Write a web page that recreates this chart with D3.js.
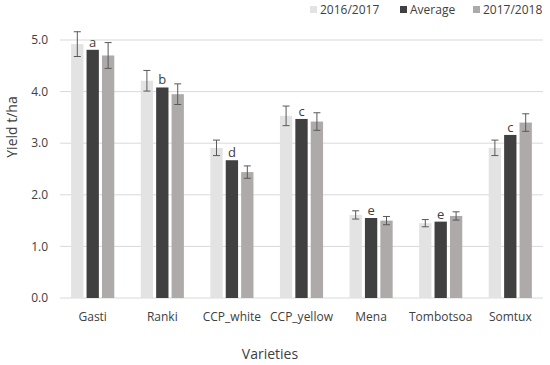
<!DOCTYPE html>
<html>
<head>
<meta charset="utf-8">
<script src="https://cdn.jsdelivr.net/npm/d3@7"></script>
<style>
  body { margin: 0; background: #fff; }
  text { font-family: "Open Sans", "Liberation Sans", sans-serif; fill: #404040; }
</style>
</head>
<body>
<svg id="chart" width="550" height="365"></svg>
<script>
const varieties = ['Gasti', 'Ranki', 'CCP_white', 'CCP_yellow', 'Mena', 'Tombotsoa', 'Somtux']
const seriesNames = ['2016/2017', 'Average', '2017/2018']
const y2016 = [4.92, 4.21, 2.91, 3.53, 1.61, 1.45, 2.91]
const err2016 = [0.24, 0.2, 0.15, 0.19, 0.08, 0.07, 0.15]
const yAvg = [4.81, 4.08, 2.67, 3.47, 1.55, 1.48, 3.16]
const letters = ['a', 'b', 'd', 'c', 'e', 'e', 'c']
const y2017 = [4.7, 3.95, 2.44, 3.42, 1.5, 1.59, 3.4]
const err2017 = [0.25, 0.2, 0.12, 0.17, 0.08, 0.08, 0.17]
const yTicks = [0, 1, 2, 3, 4, 5]
const colors = ['#e4e3e3', '#404040', '#aeaaaa']

const svg = d3.select('#chart')
const margin = { left: 60, right: 7, top: 40, bottom: 67 }

const x = d3.scaleBand().domain(varieties).range([margin.left, 543]).paddingInner(0.38).paddingOuter(0.16)
const sub = d3.scaleBand().domain(seriesNames).range([0, x.bandwidth()]).paddingInner(0.2)
const y = d3.scaleLinear().domain([0, 5]).range([298, 40])

// gridlines
svg.append('g')
    .selectAll('line')
    .data(yTicks)
    .join('line')
    .attr('x1', margin.left)
    .attr('x2', 543)
    .attr('y1', (d) => y(d))
    .attr('y2', (d) => y(d))
    .attr('stroke', '#d9d9d9')
    .attr('stroke-width', 1)

svg.append('g')
    .attr('font-size', 12)
    .attr('text-anchor', 'end')
    .selectAll('text')
    .data(yTicks)
    .join('text')
    .attr('x', 48)
    .attr('y', (d) => y(d))
    .attr('dy', '0.35em')
    .text((d) => d.toFixed(1))

const rows = varieties.map((v, i) => ({
    v,
    vals: [
        { s: seriesNames[0], val: y2016[i], err: err2016[i] },
        { s: seriesNames[1], val: yAvg[i], letter: letters[i] },
        { s: seriesNames[2], val: y2017[i], err: err2017[i] },
    ],
}))

const groups = svg.append('g')
    .selectAll('g')
    .data(rows)
    .join('g')
    .attr('transform', (d) => `translate(${x(d.v)},0)`)

groups.selectAll('rect')
    .data((d) => d.vals)
    .join('rect')
    .attr('x', (d) => sub(d.s))
    .attr('width', sub.bandwidth())
    .attr('y', (d) => y(d.val))
    .attr('height', (d) => y(0) - y(d.val))
    .attr('fill', (d, i) => colors[i])

// error bars
const eb = groups.selectAll('g.err')
    .data((d) => d.vals.filter((e) => e.err != null))
    .join('g')
    .attr('class', 'err')
    .attr('stroke', '#595959')
    .attr('stroke-width', 1)
eb.append('line')
    .attr('x1', (d) => sub(d.s) + sub.bandwidth() / 2)
    .attr('x2', (d) => sub(d.s) + sub.bandwidth() / 2)
    .attr('y1', (d) => y(d.val + d.err))
    .attr('y2', (d) => y(d.val - d.err))
eb.selectAll('line.cap')
    .data((d) => [d.val + d.err, d.val - d.err].map((v) => ({ s: d.s, v })))
    .join('line')
    .attr('class', 'cap')
    .attr('x1', (d) => sub(d.s) + sub.bandwidth() / 2 - 3.5)
    .attr('x2', (d) => sub(d.s) + sub.bandwidth() / 2 + 3.5)
    .attr('y1', (d) => y(d.v))
    .attr('y2', (d) => y(d.v))

groups.append('text')
    .attr('x', sub('Average') + sub.bandwidth() / 2)
    .attr('y', (d) => y(d.vals[1].val) - 3)
    .attr('text-anchor', 'middle')
    .attr('font-size', 13)
    .attr('fill', '#262626')
    .text((d) => d.vals[1].letter)

// x labels
svg.append('g')
    .attr('font-size', 12)
    .attr('text-anchor', 'middle')
    .selectAll('text')
    .data(varieties)
    .join('text')
    .attr('x', (d) => x(d) + x.bandwidth() / 2)
    .attr('y', 317)
    .attr('dy', '0.35em')
    .text((d) => d)

svg.append('text')
    .attr('x', 270)
    .attr('y', 354)
    .attr('dy', '0.35em')
    .attr('text-anchor', 'middle')
    .attr('font-size', 14)
    .text('Varieties')

svg.append('text')
    .attr('transform', 'translate(12,127) rotate(-90)')
    .attr('dy', '0.35em')
    .attr('text-anchor', 'middle')
    .attr('font-size', 14)
    .text('Yield t/ha')

// legend
const legendX = [310, 400, 473]
const legend = svg.append('g')
    .selectAll('g')
    .data(seriesNames)
    .join('g')
    .attr('transform', (d, i) => `translate(${legendX[i]},10)`)
legend.append('rect')
    .attr('x', 0)
    .attr('y', -4)
    .attr('width', 7)
    .attr('height', 7)
    .attr('fill', (d, i) => colors[i])
legend.append('text')
    .attr('x', 10)
    .attr('dy', '0.35em')
    .attr('font-size', 12)
    .text((d) => d)
</script>
</body>
</html>
